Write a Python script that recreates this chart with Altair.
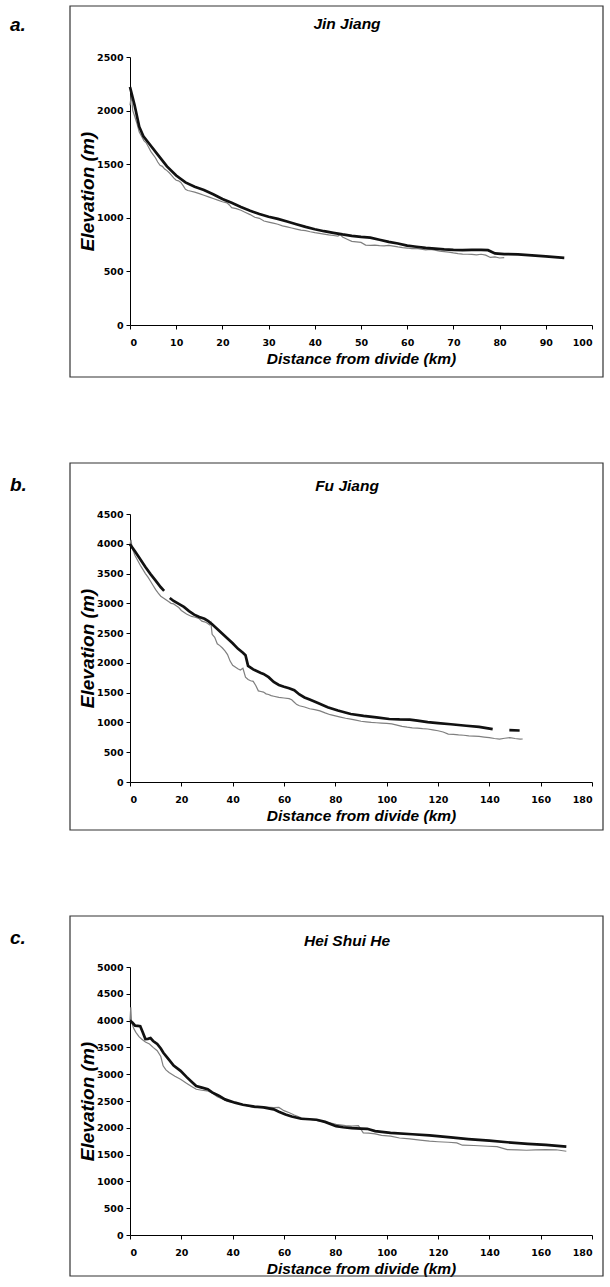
import altair as alt
import pandas as pd

# ---------------- data ----------------
# a. Jin Jiang
JJ_BLACK_KM = [0, 1, 2, 2.9, 4, 6, 8, 10, 12, 14, 16, 18, 20, 22, 24, 26, 28, 30, 32, 34, 36, 38, 40,
               42, 44, 46, 48, 50, 52, 54, 56, 58, 60, 62, 64, 66, 68, 70, 72, 74, 76, 77.5, 79, 81,
               84, 87, 90, 92, 94]
JJ_BLACK_M = [2220, 2050, 1850, 1761, 1700, 1590, 1480, 1395, 1330, 1290, 1260, 1220, 1175, 1140, 1100,
              1065, 1035, 1010, 990, 965, 940, 915, 893, 875, 860, 845, 832, 822, 815, 795, 775, 760,
              740, 730, 720, 712, 705, 700, 698, 700, 700, 698, 668, 662, 658, 650, 640, 633, 627]
JJ_GRAY_KM = [0, 0.3, 0.6, 1.0, 1.5, 2.0, 2.5, 3.0, 3.5, 4.0, 4.5, 5.0, 5.5, 6.0, 6.5, 7.0, 7.5, 8.0, 8.5,
              9.0, 9.5, 10.0, 10.5, 11.0, 11.5, 12.0, 12.5, 13, 14, 15, 16, 17, 18, 19, 20, 21, 21.5, 22,
              23, 24, 25, 26, 27, 28, 29, 30, 31, 32, 33, 34, 35, 36, 37, 38, 39, 40, 41, 42, 43, 44, 45,
              45.5, 46, 47, 48, 49, 50, 51, 52, 53, 54, 55, 56, 57, 58, 59, 60, 61, 62, 63, 64, 65, 66,
              67, 68, 69, 70, 71, 72, 73, 74, 75, 76, 77, 78, 79, 80, 81]
JJ_GRAY_M = [2050, 2150, 2000, 1950, 1880, 1800, 1760, 1720, 1700, 1660, 1620, 1590, 1560, 1520, 1490,
             1480, 1455, 1440, 1420, 1395, 1370, 1350, 1345, 1330, 1300, 1265, 1255, 1250, 1240, 1225,
             1210, 1195, 1180, 1165, 1150, 1140, 1120, 1095, 1085, 1070, 1050, 1030, 1005, 995, 970,
             960, 950, 940, 925, 915, 905, 895, 885, 880, 870, 862, 855, 848, 840, 835, 830, 845, 820,
             800, 780, 775, 770, 745, 742, 745, 740, 738, 742, 735, 728, 722, 718, 712, 715, 708, 700,
             705, 698, 690, 685, 680, 672, 665, 662, 660, 658, 655, 660, 652, 630, 635, 625, 628]

# b. Fu Jiang (black line has gaps -> segments)
FJ_BLACK_KM = [0, 2, 4, 6, 8, 10, 12, 13.3,
               15.5, 17, 19, 21, 23, 25, 27, 29, 30.5, 32, 34, 36, 38, 40, 42, 44, 45, 46, 48, 51, 52,
               54, 56, 58, 60, 62, 64, 66, 68, 70, 73, 77, 81, 86, 91, 96, 101, 105, 109, 112, 116, 120,
               125, 131, 136, 141.3,
               147.8, 151.8]
FJ_BLACK_M = [3990, 3870, 3740, 3610, 3490, 3380, 3270, 3210,
              3090, 3040, 2990, 2940, 2870, 2810, 2770, 2740, 2700, 2650, 2570, 2490, 2410, 2330, 2240,
              2170, 2130, 1950, 1890, 1830, 1815, 1760, 1680, 1630, 1600, 1575, 1540, 1470, 1420, 1385,
              1330, 1254, 1200, 1142, 1110, 1085, 1058, 1050, 1048, 1030, 1005, 990, 970, 945, 925, 889,
              870, 865]
FJ_BLACK_SEG = [1] * 8 + [2] * 46 + [3] * 2
FJ_GRAY_KM = [0, 0.4, 0.8, 2, 3, 4, 5, 6, 7, 8, 9, 10, 11, 12, 13, 14, 15, 16, 17, 18, 19, 20, 21, 22,
              23, 24, 25, 26, 27, 28, 29, 30, 31, 31.5, 32, 33, 34, 35, 36, 37, 38, 39, 40, 41, 42, 43,
              44, 45, 46, 47, 48, 49, 50, 51, 52, 53, 54, 55, 56, 58, 60, 62, 63, 64, 65, 66, 68, 70,
              72, 74, 76, 78, 80, 82, 84, 86, 88, 90, 92, 94, 96, 98, 100, 102, 104, 106, 108, 110, 112,
              114, 116, 118, 120, 122, 124, 126, 128, 130, 132, 134, 136, 138, 140, 142, 144, 146, 148,
              150, 152, 153]
FJ_GRAY_M = [4000, 4067, 3930, 3800, 3720, 3640, 3570, 3500, 3440, 3370, 3300, 3230, 3170, 3120, 3090,
             3060, 3030, 3000, 2990, 2960, 2930, 2880, 2850, 2820, 2800, 2780, 2770, 2760, 2740, 2700,
             2690, 2670, 2640, 2680, 2480, 2430, 2320, 2290, 2250, 2200, 2140, 2030, 1960, 1930, 1900,
             1880, 1910, 1760, 1720, 1700, 1690, 1620, 1530, 1520, 1510, 1480, 1470, 1450, 1440, 1420,
             1410, 1400, 1380, 1340, 1300, 1280, 1260, 1230, 1215, 1195, 1160, 1130, 1110, 1090, 1070,
             1055, 1040, 1020, 1010, 1000, 995, 990, 985, 975, 955, 935, 920, 910, 905, 895, 890, 875,
             860, 840, 805, 800, 790, 785, 775, 770, 765, 755, 745, 730, 720, 735, 745, 730, 720, 722]

# c. Hei Shui He
HS_BLACK_KM = [0, 1, 2, 3, 4, 5, 6, 7, 8, 9, 10.6, 12, 13, 15, 17, 19.7, 22, 24, 25.8, 28, 30.3, 32,
               34.8, 37, 40.9, 44, 48.5, 52, 56, 58, 60.6, 63, 66.7, 70, 72.7, 76, 80.3, 83, 86.4, 90,
               92.4, 95.5, 101.5, 110, 116.7, 125, 131.8, 140, 147, 155, 162, 170]
HS_BLACK_M = [4000, 3960, 3906, 3900, 3894, 3780, 3656, 3660, 3675, 3620, 3563, 3480, 3400, 3281, 3160,
              3063, 2950, 2860, 2781, 2750, 2719, 2660, 2594, 2530, 2469, 2430, 2394, 2380, 2344, 2300,
              2250, 2210, 2169, 2160, 2150, 2110, 2031, 2010, 1994, 1985, 1981, 1938, 1906, 1880, 1860,
              1820, 1790, 1760, 1730, 1700, 1680, 1650]
HS_GRAY_KM = [0, 0.3, 0.6, 1.5, 2.3, 3.5, 4.5, 6, 7.6, 9, 10.6, 12, 12.9, 14, 15.2, 17.5, 19.7, 22, 24,
              25.8, 28, 30, 31.8, 34, 36.4, 38, 40.9, 44, 48.5, 52, 56, 58, 60, 62.1, 64, 66.7, 70,
              74.2, 77, 80.3, 84, 86.4, 89, 90.9, 93, 95.5, 98, 101.5, 105, 109, 113, 116.7, 120, 124,
              127.3, 129.5, 134, 139.4, 143, 147, 151, 154.5, 158, 162, 166, 170]
HS_GRAY_M = [4000, 4250, 3969, 3850, 3781, 3700, 3656, 3600, 3563, 3500, 3438, 3330, 3156, 3080, 3031,
             2960, 2906, 2830, 2770, 2719, 2700, 2690, 2656, 2580, 2531, 2490, 2469, 2430, 2375, 2390,
             2375, 2380, 2320, 2281, 2240, 2188, 2160, 2125, 2100, 2063, 2040, 2031, 2040, 1906, 1900,
             1888, 1860, 1844, 1810, 1794, 1770, 1750, 1740, 1730, 1719, 1675, 1670, 1656, 1650, 1594,
             1590, 1581, 1590, 1594, 1590, 1563]

X_TITLE = "Distance from divide (km)"
Y_TITLE = "Elevation (m)"
FONT = "Liberation Sans"


def panel(letter, name, xmax, xstep, ymax, bkm, bm, bseg, gkm, gm, title_y, letter_y, frame_bottom):
    black = pd.DataFrame({"km": bkm, "elev": bm, "seg": bseg})
    gray = pd.DataFrame({"km": gkm, "elev": gm})
    xenc = alt.X(
        "km:Q",
        scale=alt.Scale(domain=[0, xmax], nice=False, zero=True),
        axis=alt.Axis(values=list(range(0, xmax + 1, xstep)), title=X_TITLE, format="d",
                      titleY=38, titleBaseline="alphabetic"),
    )
    yenc = alt.Y(
        "elev:Q",
        scale=alt.Scale(domain=[0, ymax], nice=False, zero=True),
        axis=alt.Axis(values=list(range(0, ymax + 1, 500)), title=Y_TITLE, format="d",
                      titleX=-37, titleBaseline="alphabetic"),
    )
    one = pd.DataFrame({"d": [0]})
    frame = alt.Chart(one).mark_rect(
        fill="white", fillOpacity=0, stroke="#333333", strokeWidth=1.2
    ).encode(x=alt.value(-60), x2=alt.value(473), y=alt.value(-51), y2=alt.value(frame_bottom))
    gray_line = alt.Chart(gray).mark_line(color="#7f7f7f", strokeWidth=1.2).encode(x=xenc, y=yenc)
    black_line = alt.Chart(black).mark_line(color="#111111", strokeWidth=2.7).encode(
        x=xenc, y=yenc, detail="seg:N"
    )
    title = alt.Chart(one).mark_text(
        text=name, font=FONT, fontStyle="italic", fontWeight="bold", fontSize=15.5,
        baseline="alphabetic", align="center", color="black"
    ).encode(x=alt.value(217), y=alt.value(title_y))
    lab = alt.Chart(one).mark_text(
        text=letter, font=FONT, fontStyle="italic", fontWeight="bold", fontSize=19,
        baseline="alphabetic", align="left", color="black"
    ).encode(x=alt.value(-120), y=alt.value(letter_y))
    return alt.layer(frame, gray_line, black_line, title, lab).properties(width=462, height=268)


pa = panel("a.", "Jin Jiang", 100, 10, 2500, JJ_BLACK_KM, JJ_BLACK_M, [1] * len(JJ_BLACK_KM),
           JJ_GRAY_KM, JJ_GRAY_M, -28, -26, 320)
pb = panel("b.", "Fu Jiang", 180, 20, 4500, FJ_BLACK_KM, FJ_BLACK_M, FJ_BLACK_SEG,
           FJ_GRAY_KM, FJ_GRAY_M, -23, -23, 316)
pc = panel("c.", "Hei Shui He", 180, 20, 5000, HS_BLACK_KM, HS_BLACK_M, [1] * len(HS_BLACK_KM),
           HS_GRAY_KM, HS_GRAY_M, -21, -23, 309)

chart = (
    alt.vconcat(pa, pb, pc, spacing=84)
    .properties(padding={"left": 10, "top": 5, "right": 0, "bottom": 0}, background="white")
    .configure_view(stroke=None)
    .configure_axis(
        grid=False,
        domainColor="black",
        domainWidth=1,
        tickColor="black",
        tickSize=4,
        labelFont="DejaVu Sans",
        labelFontWeight="bold",
        labelFontSize=9.5,
        labelColor="black",
        titleFont=FONT,
        titleFontStyle="italic",
        titleFontWeight="bold",
        titleColor="black",
    )
    .configure_axisX(labelPadding=8, titleFontSize=15.5)
    .configure_axisY(labelPadding=3, titleFontSize=19)
)

chart.save("out.html", embed_options={"renderer": "svg", "actions": False})
